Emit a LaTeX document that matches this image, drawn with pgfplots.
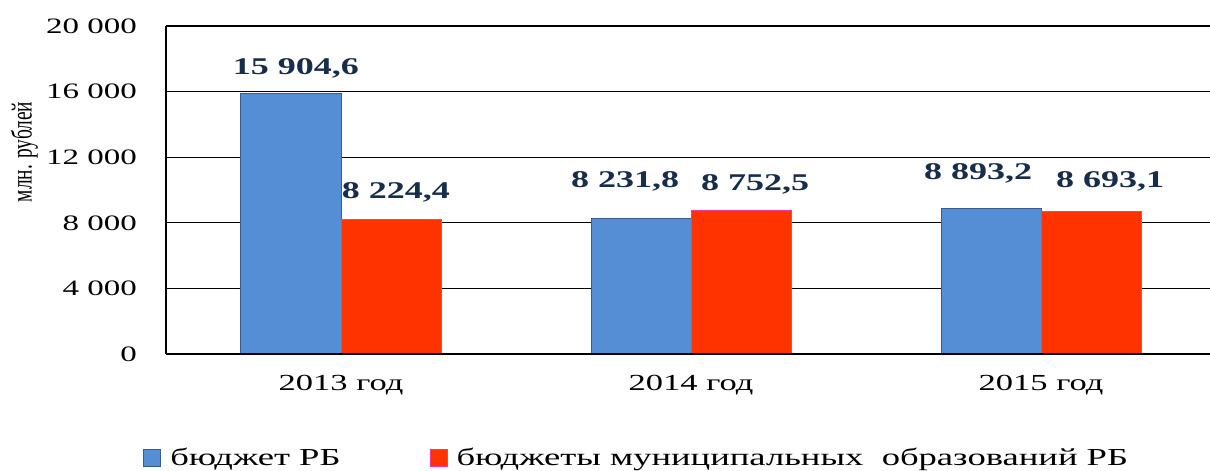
\documentclass[border=0pt]{standalone}
\usepackage{fontspec}
\setmainfont{Liberation Serif}[FakeStretch=1.5]
\newfontfamily\plainserif{Liberation Serif}
\usepackage{graphicx}
\usepackage{pgfplots}
\usepackage{pgfplotstable}
\pgfplotsset{compat=1.18}
\definecolor{barblue}{RGB}{85,142,213}
\definecolor{barblueedge}{RGB}{56,93,138}
\definecolor{barred}{RGB}{255,51,0}
\definecolor{barrededge}{RGB}{255,51,153}
\definecolor{lblnavy}{RGB}{23,45,75}
\pgfplotstableread[col sep=comma]{
x,y,lbl,dx,dy
0,15904.6,15 904{,}6,2.5,9.5
1,8231.8,8 231{,}8,-8,15.5
2,8893.2,8 893{,}2,-6.5,14.5
}\budgetRB
\pgfplotstableread[col sep=comma]{
x,y,lbl,dx,dy
0,8224.4,8 224{,}4,2.5,10.5
1,8752.5,8 752{,}5,7,10
2,8693.1,8 693{,}1,9.5,12
}\budgetMO
\begin{document}
\begin{tikzpicture}
\useasboundingbox (-83pt,-58.5pt) rectangle (522pt,177pt);
\begin{axis}[
  scale only axis,
  width=525pt, height=164pt,
  ybar=0pt, bar width=50pt,
  xmin=-0.5, xmax=2.5,
  ymin=0, ymax=20000,
  scaled y ticks=false,
  xtick={0,1,2},
  xticklabels={2013 год,2014 год,2015 год},
  ytick={0,4000,8000,12000,16000,20000},
  yticklabels={0,4 000,8 000,12 000,16 000,20 000},
  major tick length=0pt,
  axis x line*=bottom, axis y line*=left,
  axis line style={line width=1.1pt, black, -},
  ymajorgrids,
  major grid style={line width=0.6pt, black},
  tick label style={font=\fontsize{11}{13}\selectfont, black},
  yticklabel style={xshift=-11pt},
  xticklabel style={yshift=-7pt, font=\fontsize{11.5}{13}\selectfont},
  ylabel={\scalebox{1}[1.5]{\plainserif\fontsize{9.7}{11}\selectfont млн. рублей}},
  ylabel style={at={(axis description cs:-0.135,0.616)}, anchor=center},
  nodes near coords,
  point meta=explicit symbolic,
  visualization depends on={\thisrow{dx} \as \dxval},
  visualization depends on={\thisrow{dy} \as \dyval},
  every node near coord/.append style={font=\bfseries\fontsize{12}{14}\selectfont, text=lblnavy, anchor=base, inner sep=0pt, yshift=\dyval*1pt, xshift=\dxval*1pt},
  legend columns=2,
  legend style={draw=none, at={(rel axis cs:-0.022,-0.317)}, anchor=west, font=\fontsize{12.2}{14}\selectfont, /tikz/every even column/.append style={column sep=42.5pt}, inner sep=0pt},
  legend image code/.code={\draw[#1] (0pt,-4.25pt) rectangle (8.5pt,4.25pt);},
]
\addplot[fill=barblue, draw=barblueedge, line width=0.5pt] table[x=x, y=y, meta=lbl] {\budgetRB};
\addplot[fill=barred, draw=barrededge, line width=0.5pt] table[x=x, y=y, meta=lbl] {\budgetMO};
\legend{\hspace*{2.5pt}бюджет РБ, \hspace*{2.5pt}бюджеты муниципальных\ \ образований РБ}
\draw[line width=1.1pt, black] (rel axis cs:0,0) -- (rel axis cs:1,0);
\end{axis}
\end{tikzpicture}
\end{document}
